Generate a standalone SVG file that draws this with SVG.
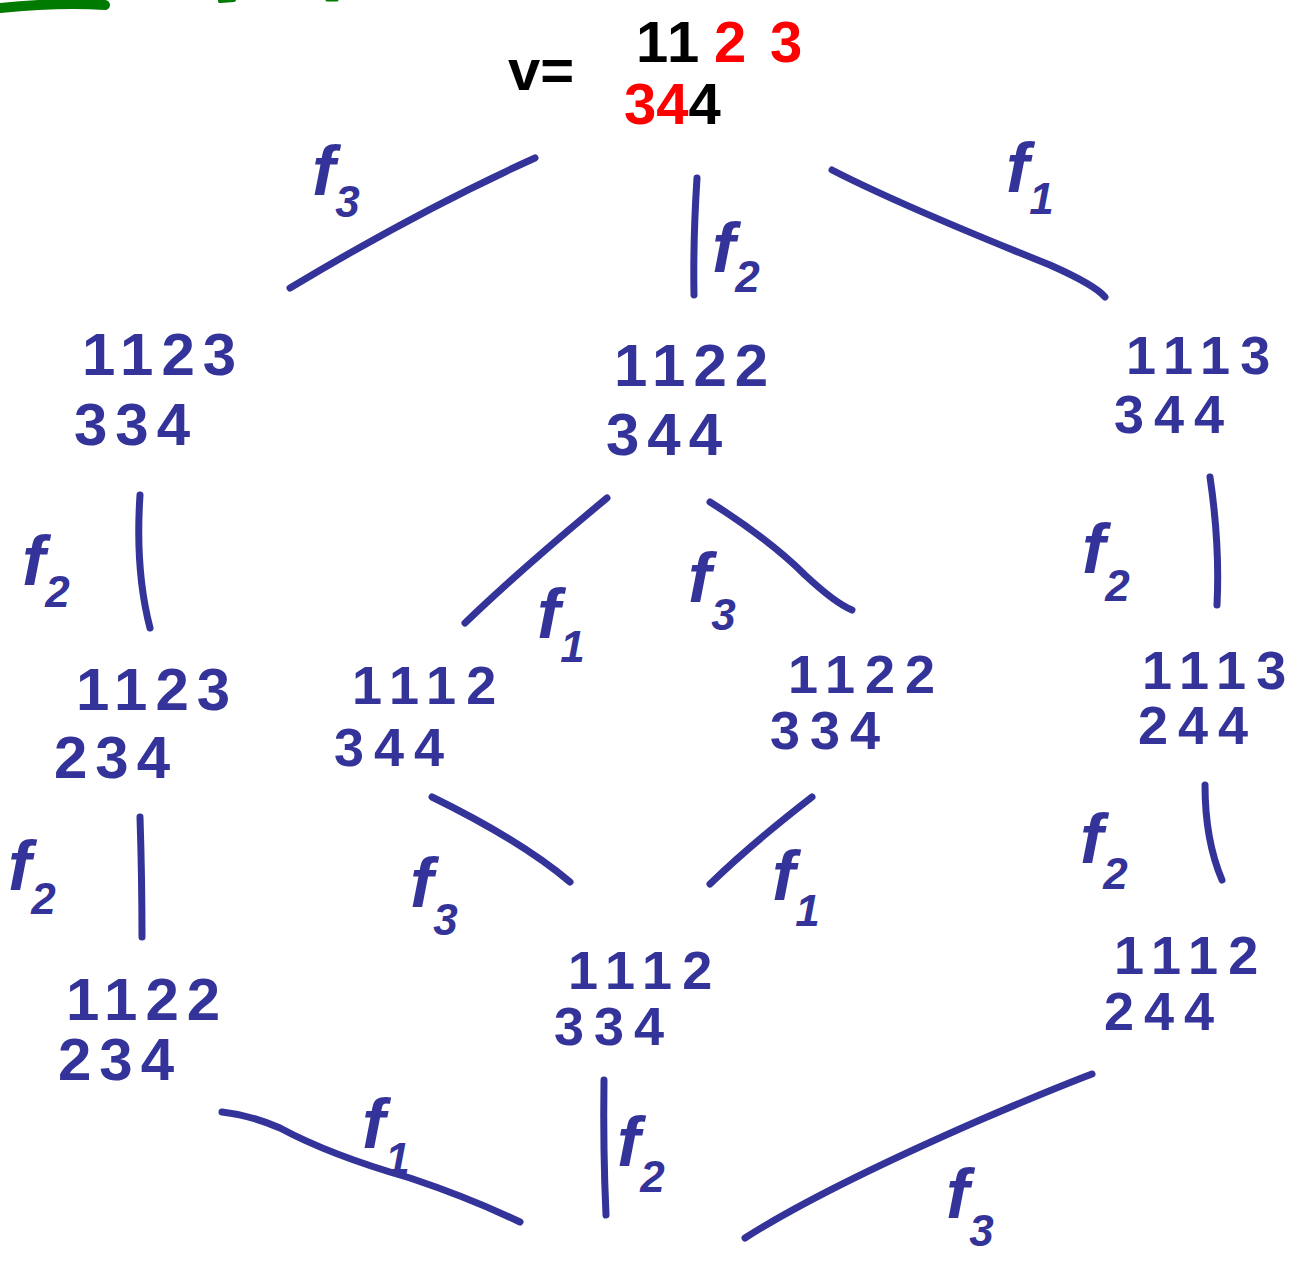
<svg xmlns="http://www.w3.org/2000/svg" width="1310" height="1264" viewBox="0 0 1310 1264">
<style>
.t{font-family:"Liberation Sans",Arial,sans-serif;font-weight:bold;fill:#333399}
.n{font-size:60px;letter-spacing:8px}
.m{font-size:54px;letter-spacing:10px}
.f{font-size:70px;font-style:italic}
.s{font-size:44px}
.e{fill:none;stroke:#333399;stroke-width:7;stroke-linecap:round}
.top{font-family:"Liberation Sans",Arial,sans-serif;font-weight:bold;font-size:58px}
</style>
<rect width="1310" height="1264" fill="#fff"/>
<path d="M0 8 Q60 2 105 5" fill="none" stroke="#007a00" stroke-width="10" stroke-linecap="round"/>
<path d="M220 1 L234 0" fill="none" stroke="#007a00" stroke-width="4" stroke-linecap="round"/>
<path d="M327 0 L337 0" fill="none" stroke="#007a00" stroke-width="3" stroke-linecap="round"/>
<g id="root">
<text class="top" x="508" y="90" fill="#000" font-size="64">v=</text>
<text class="top" x="636" y="62" fill="#000" letter-spacing="2">11</text>
<text class="top" x="714" y="62" fill="#ff0000">2</text>
<text class="top" x="770" y="62" fill="#ff0000">3</text>
<text class="top" x="624" y="124" fill="#ff0000">34<tspan fill="#000">4</tspan></text>
</g>
<g id="n1"><text class="t n" x="82" y="375">1123</text><text class="t n" x="74" y="445">334</text></g>
<g id="n2"><text class="t n" x="614" y="386" letter-spacing="12">1122</text><text class="t n" x="606" y="455" letter-spacing="12">344</text></g>
<g id="n3"><text class="t m" x="1126" y="374" letter-spacing="16">1113</text><text class="t m" x="1114" y="433">344</text></g>
<g id="n4"><text class="t n" x="76" y="710">1123</text><text class="t n" x="54" y="778">234</text></g>
<g id="n5"><text class="t m" x="352" y="704" letter-spacing="12">1112</text><text class="t m" x="334" y="766">344</text></g>
<g id="n6"><text class="t m" x="788" y="693" letter-spacing="14">1122</text><text class="t m" x="770" y="749">334</text></g>
<g id="n7"><text class="t m" x="1142" y="689" letter-spacing="12">1113</text><text class="t m" x="1138" y="744">244</text></g>
<g id="n8"><text class="t n" x="66" y="1020" letter-spacing="10">1122</text><text class="t n" x="58" y="1080">234</text></g>
<g id="n9"><text class="t m" x="568" y="989" letter-spacing="12">1112</text><text class="t m" x="554" y="1045">334</text></g>
<g id="n10"><text class="t m" x="1114" y="974" letter-spacing="14">1112</text><text class="t m" x="1104" y="1030">244</text></g>
<g id="connectors">
<path class="e" d="M535 158 Q420 210 290 288"/>
<path class="e" d="M697 178 Q693 240 694 295"/>
<path class="e" d="M832 170 Q900 205 1050 265 Q1095 285 1105 297"/>
<path class="e" d="M140 495 Q135 570 150 628"/>
<path class="e" d="M140 817 Q142 880 142 937"/>
<path class="e" d="M607 498 Q520 570 465 623"/>
<path class="e" d="M710 502 Q770 540 805 575 Q835 603 852 610"/>
<path class="e" d="M1210 477 Q1220 545 1217 605"/>
<path class="e" d="M1205 785 Q1205 840 1222 880"/>
<path class="e" d="M432 797 Q520 840 570 882"/>
<path class="e" d="M812 797 Q750 845 710 884"/>
<path class="e" d="M222 1112 Q250 1115 280 1128 Q330 1155 410 1178 Q470 1198 520 1222"/>
<path class="e" d="M604 1080 Q603 1150 606 1215"/>
<path class="e" d="M1092 1074 Q1050 1090 980 1120 Q820 1190 745 1238"/>
<text class="t f" x="312" y="195">f<tspan class="s" dy="22">3</tspan></text>
<text class="t f" x="712" y="272">f<tspan class="s" dy="20">2</tspan></text>
<text class="t f" x="1006" y="192">f<tspan class="s" dy="22">1</tspan></text>
<text class="t f" x="22" y="585">f<tspan class="s" dy="22">2</tspan></text>
<text class="t f" x="8" y="890">f<tspan class="s" dy="24">2</tspan></text>
<text class="t f" x="537" y="638">f<tspan class="s" dy="24">1</tspan></text>
<text class="t f" x="688" y="602">f<tspan class="s" dy="28">3</tspan></text>
<text class="t f" x="1082" y="573">f<tspan class="s" dy="28">2</tspan></text>
<text class="t f" x="1080" y="863">f<tspan class="s" dy="26">2</tspan></text>
<text class="t f" x="410" y="907">f<tspan class="s" dy="28">3</tspan></text>
<text class="t f" x="772" y="900">f<tspan class="s" dy="26">1</tspan></text>
<text class="t f" x="362" y="1148">f<tspan class="s" dy="26">1</tspan></text>
<text class="t f" x="617" y="1166">f<tspan class="s" dy="26">2</tspan></text>
<text class="t f" x="946" y="1218">f<tspan class="s" dy="28">3</tspan></text>
</g>
</svg>
